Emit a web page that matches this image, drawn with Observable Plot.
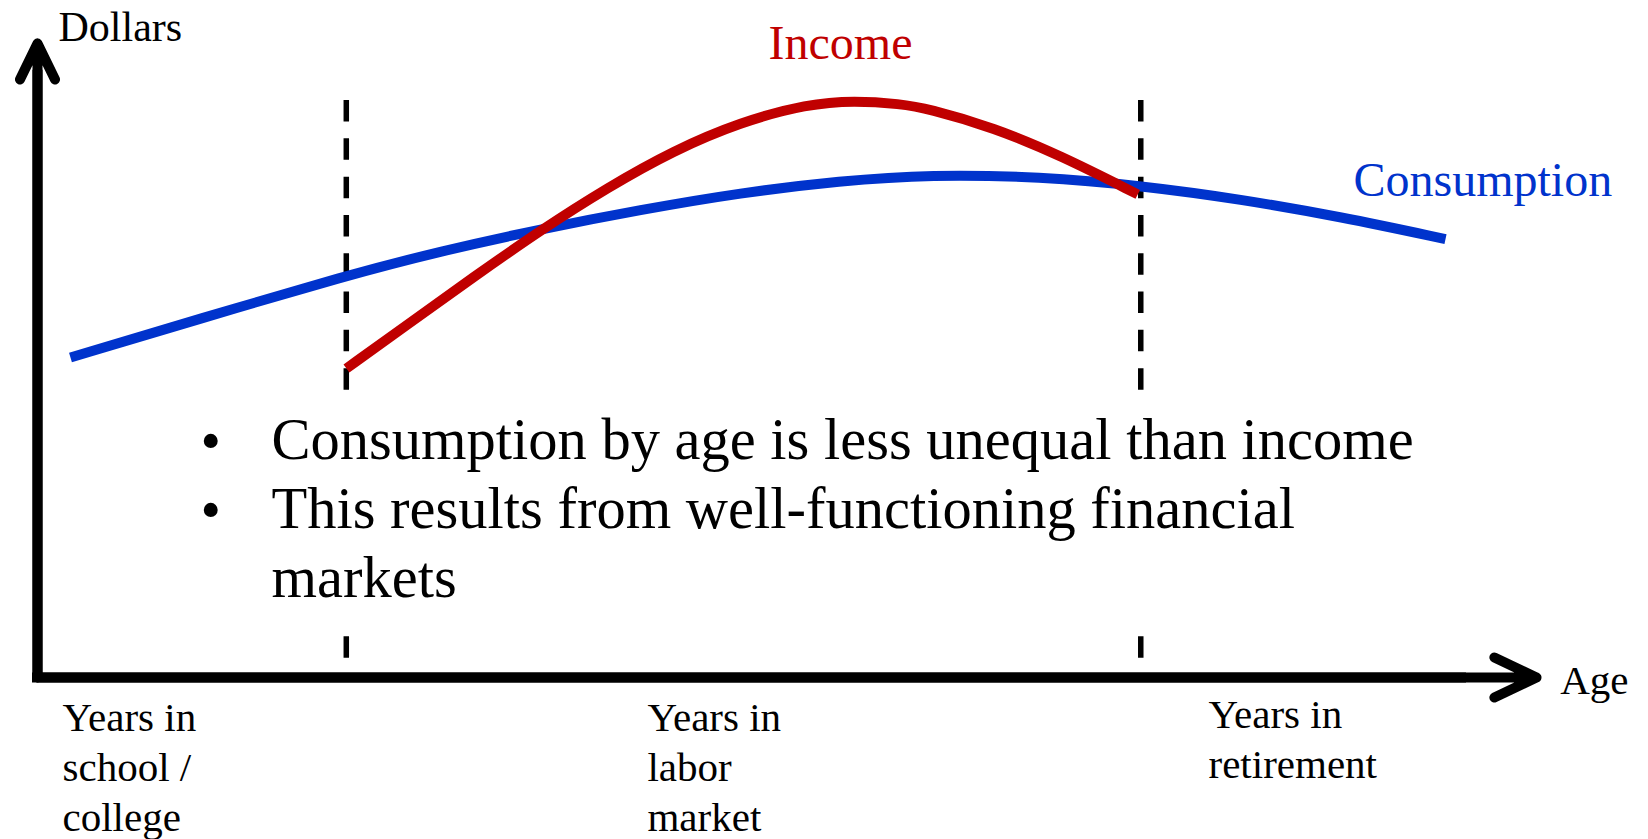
<!DOCTYPE html>
<html>
<head>
<meta charset="utf-8">
<script src="https://cdn.jsdelivr.net/npm/d3@7"></script>
<script src="https://cdn.jsdelivr.net/npm/@observablehq/plot@0.6"></script>
<style>
  html, body { margin: 0; padding: 0; background: #ffffff; }
  #chart svg { display: block; }
</style>
</head>
<body>
<div id="chart"></div>
<script>
// Stylised life-cycle chart: abstract units (age 0–100 along the axis, dollars 0–100 up the axis)
const consumptionAge     = [2.2, 10.88, 20.61, 26.88, 33.56, 40.23, 46.9, 53.57, 59.57, 66.91, 73.65, 80.25, 86.92, 93.93];
const consumptionDollars = [50.47, 56.62, 63.41, 67.24, 70.72, 73.77, 76.45, 78.34, 79.34, 78.99, 77.56, 75.44, 72.68, 69.15];
const incomeAge     = [20.61, 24.68, 29.09, 33.56, 38.03, 42.43, 46.9, 51.37, 54.5, 57.57, 59.37, 63.78, 68.25, 73.4];
const incomeDollars = [48.74, 55.66, 63.16, 70.55, 77.29, 83.12, 87.62, 90.46, 91.01, 90.47, 89.75, 86.75, 82.33, 76.2];
const phaseBoundaries = [20.6, 73.6];
const phaseLabels = ["Years in\nschool /\ncollege", "Years in\nlabor\nmarket", "Years in\nretirement"];
const bulletText = "Consumption by age is less unequal than income\nThis results from well-functioning financial\nmarkets";
const bulletMarks = "•\n•";
const seriesNames = ["Income", "Consumption"];
const axisNames = ["Dollars", "Age"];

const RED = "#c00000";
const BLUE = "#0033cc";
const SERIF = "'Liberation Serif', 'Times New Roman', Times, serif";

const consumption = consumptionAge.map((a, i) => ({age: a, dollars: consumptionDollars[i]}));
const income = incomeAge.map((a, i) => ({age: a, dollars: incomeDollars[i]}));

const chart = Plot.plot({
  width: 1648,
  height: 839,
  marginLeft: 37,
  marginRight: 112,
  marginTop: 43,
  marginBottom: 162,
  x: {domain: [0, 100], axis: null},
  y: {domain: [0, 100], axis: null},
  style: {fontFamily: SERIF, background: "#ffffff", overflow: "visible", color: "#000"},
  marks: [
    // phase boundaries
    Plot.ruleX(phaseBoundaries, {x: d => d, y1: 91, y2: 0, stroke: "#000", strokeWidth: 5.5, strokeDasharray: "21.5,16.8"}),
    // white text box behind the notes
    Plot.rect([0], {x1: 10.2, x2: 92.3, y1: 7.73, y2: 44.16, fill: "#ffffff"}),
    // curves
    Plot.line(consumption, {x: "age", y: "dollars", stroke: BLUE, strokeWidth: 10, curve: "basis", strokeLinecap: "butt"}),
    Plot.line(income, {x: "age", y: "dollars", stroke: RED, strokeWidth: 10, curve: "basis", strokeLinecap: "butt"}),
    // axes with arrow heads
    Plot.arrow([0], {x1: 0, y1: 0, x2: 100, y2: 0, stroke: "#000", strokeWidth: 10, headAngle: 51, headLength: 7, strokeLinecap: "round", strokeLinejoin: "round"}),
    Plot.arrow([0], {x1: 0, y1: 0, x2: 0, y2: 100, stroke: "#000", strokeWidth: 10, headAngle: 52, headLength: 6, strokeLinecap: "round", strokeLinejoin: "round"}),
    Plot.ruleY([0], {x1: 0, x2: 95, stroke: "#000", strokeWidth: 10, strokeLinecap: "square"}),
    Plot.ruleX([0], {y1: 0, y2: 95, stroke: "#000", strokeWidth: 10, strokeLinecap: "square"}),
    // axis names
    Plot.text([axisNames[0]], {x: 1.4, y: 100.47, text: d => d, textAnchor: "start", lineAnchor: "bottom", fontSize: 42, fill: "#000"}),
    Plot.text([axisNames[1]], {x: 101.58, y: -2.68, text: d => d, textAnchor: "start", lineAnchor: "bottom", fontSize: 41, fill: "#000"}),
    // series labels
    Plot.text([seriesNames[0]], {x: 53.57, y: 97.6, text: d => d, textAnchor: "middle", lineAnchor: "bottom", fontSize: 48, fill: RED}),
    Plot.text([seriesNames[1]], {x: 87.79, y: 75.87, text: d => d, textAnchor: "start", lineAnchor: "bottom", fontSize: 48, fill: BLUE}),
    // bullet notes
    Plot.text([bulletMarks], {x: 10.87, y: 23.34, text: d => d, textAnchor: "start", lineAnchor: "bottom", fontSize: 58.5, lineHeight: 1.18, fill: "#000"}),
    Plot.text([bulletText], {x: 15.61, y: 12.62, text: d => d, textAnchor: "start", lineAnchor: "bottom", fontSize: 58.5, lineHeight: 1.18, fill: "#000"}),
    // phase labels under the axis
    Plot.text(phaseLabels, {x: [1.67, 40.69, 78.12], y: [-24.29, -24.29, -15.93], text: d => d, textAnchor: "start", lineAnchor: "bottom", fontSize: 41, lineHeight: 1.22, fill: "#000"})
  ]
});

document.getElementById("chart").appendChild(chart);
</script>
</body>
</html>
